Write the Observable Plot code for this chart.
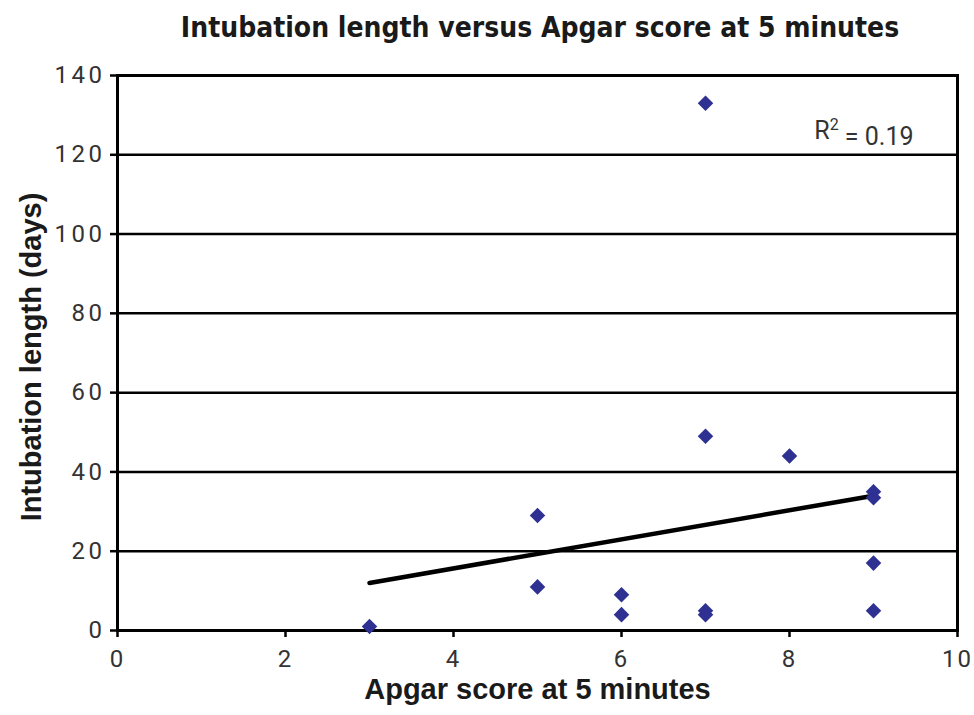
<!DOCTYPE html>
<html>
<head>
<meta charset="utf-8">
<script src="https://cdn.jsdelivr.net/npm/d3@7"></script>
<script src="https://cdn.jsdelivr.net/npm/@observablehq/plot@0.6"></script>
<style>
  html, body { margin: 0; padding: 0; background: #fff; }
  #wrap { position: relative; width: 974px; height: 715px; }
  #title { position: absolute; left: 540px; top: 11px; transform: translateX(-50%); white-space: nowrap;
           font-family: "Liberation Sans Narrow", "DejaVu Sans Condensed", "Liberation Sans", sans-serif;
           font-weight: bold; font-size: 28px; color: #1a1a1a; }
  #chart { position: absolute; left: 0; top: 60px; }
  #chart g[aria-label="y-axis tick label"] text { letter-spacing: 3.5px; font-size: 24px; }
  #chart g[aria-label="x-axis tick label"] text { letter-spacing: 2px; font-size: 24px; }
</style>
</head>
<body>
<div id="wrap">
  <div id="title">Intubation length versus Apgar score at 5 minutes</div>
  <div id="chart"></div>
</div>
<script>
// Apgar score at 5 minutes (x) and intubation length in days (y)
const apgar =     [3, 5, 5, 6, 6, 7, 7, 7, 7, 8, 9, 9, 9, 9];
const intubDays = [1, 29, 11, 9, 4, 49, 4, 5, 133, 44, 35, 33.5, 17, 5];
// Linear trend line endpoints as drawn
const trendX = [3, 9];
const trendY = [12, 34];
const xTicks = [0, 2, 4, 6, 8, 10];
const yTicks = [0, 20, 40, 60, 80, 100, 120, 140];
const r2Label = "R² = 0.19";
const xLabel = "Apgar score at 5 minutes";
const yLabel = "Intubation length (days)";

const points = apgar.map((a, i) => ({apgar: a, days: intubDays[i]}));
const trend = trendX.map((x, i) => ({x, y: trendY[i]}));

const chart = Plot.plot({
  width: 974,
  height: 655,
  marginTop: 15,
  marginBottom: 85,
  marginLeft: 117,
  marginRight: 17,
  style: {fontFamily: "Roboto, 'Liberation Sans', Arial, sans-serif", fontSize: "24px", background: "#fff"},
  x: {domain: [0, 10]},
  y: {domain: [0, 140]},
  marks: [
    Plot.gridY(yTicks, {stroke: "#000", strokeOpacity: 1, strokeWidth: 2.5}),
    Plot.frame({stroke: "#000", strokeWidth: 3}),
    Plot.axisY(yTicks, {tickSize: 7, tickPadding: 5, strokeWidth: 2.5, label: null,
      fontSize: 24, fill: "#333"}),
    Plot.axisX(xTicks, {tickSize: 7, tickPadding: 12, strokeWidth: 2.5, label: null,
      fontSize: 24, fill: "#333"}),
    Plot.line(trend, {x: "x", y: "y", stroke: "#000", strokeWidth: 4.5}),
    Plot.dot(points, {x: "apgar", y: "days", symbol: "diamond2", r: 7, fill: "#2e3192", stroke: "none"}),
    Plot.text([r2Label], {frameAnchor: "top-right", dx: -44, dy: 46, text: d => d,
      fontSize: 25, fill: "#333", textAnchor: "end", className: "r2label", style: {letterSpacing: "3.5px"}}),
    Plot.text([xLabel], {frameAnchor: "bottom", dy: 68, text: d => d,
      fontSize: 29, fontWeight: "bold", fill: "#1a1a1a", textAnchor: "middle",
      fontFamily: "'Liberation Sans', Arial, sans-serif", style: {letterSpacing: "0.5px"}}),
    Plot.text([yLabel], {frameAnchor: "left", dx: -86, dy: 4, rotate: -90, text: d => d,
      fontSize: 29, fontWeight: "bold", fill: "#1a1a1a", textAnchor: "middle",
      fontFamily: "'Liberation Sans', Arial, sans-serif", style: {letterSpacing: "0.8px"}})
  ]
});
// Render the "2" of R² as a real superscript
d3.select(chart).selectAll(".r2label text").each(function() {
  const t = d3.select(this);
  const parts = t.text().split("²");
  if (parts.length === 2) {
    t.text(null);
    t.append("tspan").text(parts[0]);
    t.append("tspan").attr("font-size", 16).attr("dy", "-0.6em").text("2");
    t.append("tspan").attr("dy", "0.6em").text(parts[1]);
  }
});
document.getElementById("chart").appendChild(chart);
</script>
</body>
</html>
